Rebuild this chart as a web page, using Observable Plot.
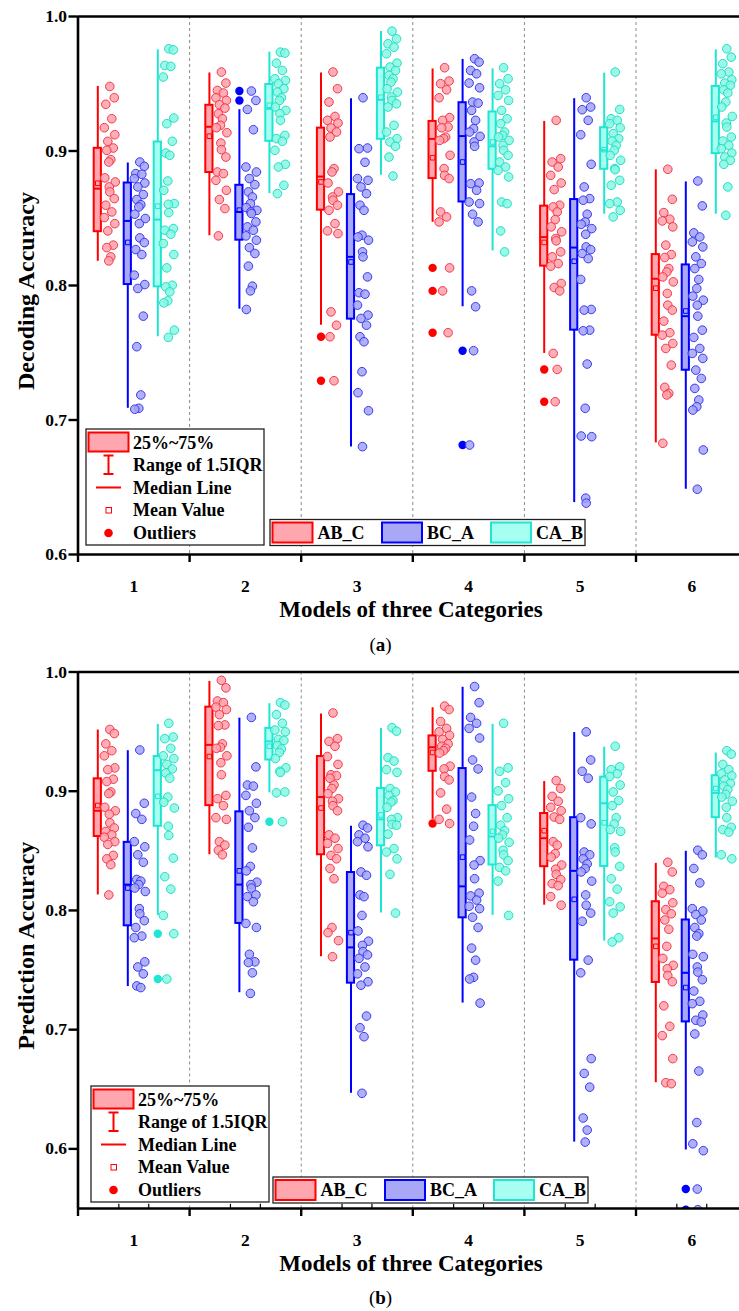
<!DOCTYPE html>
<html><head><meta charset="utf-8">
<script src="https://cdn.jsdelivr.net/npm/d3@7"></script>
<script src="https://cdn.jsdelivr.net/npm/@observablehq/plot@0.6"></script>
<style>
body{margin:0;background:#fff;width:739px;height:1311px;position:relative;overflow:hidden;font-family:"Liberation Serif","Times New Roman",serif;}
#pa,#pb{position:absolute;left:0;}
#pa{top:0px} #pb{top:655px}
.cap{position:absolute;left:11px;width:739px;text-align:center;font-size:19px;line-height:22px;color:#000;}
</style></head><body>
<div id="pa"></div>
<div class="cap" style="top:634px">(<b>a</b>)</div>
<div id="pb"></div>
<div class="cap" style="top:1287px">(<b>b</b>)</div>
<script>
// ---------------- DATA ----------------
const models = [1, 2, 3, 4, 5, 6];
const seriesNames = ["AB_C", "BC_A", "CA_B"];
const yTicks = [0.6, 0.7, 0.8, 0.9, 1.0];
const sepTicks = [0.5, 1.5, 2.5, 3.5, 4.5, 5.5];

// box statistics per model: [lower whisker, Q1, median, mean, Q3, upper whisker]
// (a) Decoding Accuracy
const decBoxAB_C = [
  [0.818, 0.840, 0.872, 0.876, 0.902, 0.948],
  [0.837, 0.884, 0.918, 0.911, 0.934, 0.958],
  [0.7705, 0.856, 0.881, 0.877, 0.917, 0.958],
  [0.847, 0.8795, 0.909, 0.895, 0.922, 0.961],
  [0.7495, 0.8144, 0.836, 0.832, 0.859, 0.922],
  [0.683, 0.763, 0.805, 0.798, 0.823, 0.886]
];
const decBoxBC_A = [
  [0.7087, 0.8007, 0.848, 0.832, 0.8762, 0.8911],
  [0.7824, 0.8337, 0.8547, 0.856, 0.8745, 0.9307],
  [0.680, 0.775, 0.8213, 0.8175, 0.8676, 0.9389],
  [0.7842, 0.8621, 0.9111, 0.8918, 0.9359, 0.9681],
  [0.6386, 0.7668, 0.8282, 0.818, 0.8639, 0.9389],
  [0.6485, 0.737, 0.7772, 0.781, 0.8153, 0.877]
];
const decBoxCA_B = [
  [0.7619, 0.799, 0.849, 0.859, 0.9067, 0.9752],
  [0.8683, 0.9072, 0.9314, 0.934, 0.9495, 0.9735],
  [0.8819, 0.9087, 0.9381, 0.940, 0.9616, 0.9889],
  [0.8257, 0.8864, 0.9035, 0.9067, 0.929, 0.9611],
  [0.853, 0.8864, 0.9005, 0.901, 0.9173, 0.9579],
  [0.853, 0.898, 0.922, 0.925, 0.948, 0.9752]
];
const decOutAB_C = [[], [], [0.7619, 0.7292], [0.8131, 0.796, 0.7649], [0.7376, 0.7136], []];
const decOutBC_A = [[], [0.9446, 0.9376], [], [0.7515, 0.6814], [], []];
const decOutCA_B = [[], [], [], [], [], []];
const decPtsAB_C = [
  [0.948,0.9396,0.9347,0.924,0.9173,0.9121,0.9072,0.9022,0.9005,0.8936,0.8918,0.880,0.877,0.8733,0.8696,0.8646,0.8597,0.8547,0.8505,0.846,0.8406,0.830,0.8282,0.8213,0.8183],
  [0.9587,0.9505,0.945,0.9431,0.9396,0.9376,0.9344,0.9319,0.9277,0.924,0.9191,0.9173,0.9136,0.9059,0.901,0.8955,0.8844,0.8832,0.8782,0.8708,0.8639,0.8572,0.8369],
  [0.9587,0.9463,0.9364,0.9257,0.9228,0.9208,0.9171,0.9141,0.9104,0.8869,0.8844,0.8762,0.8696,0.8658,0.8634,0.8597,0.8559,0.846,0.8406,0.8386,0.7804,0.7705,0.7619,0.7292],
  [0.9619,0.952,0.95,0.9455,0.9396,0.9248,0.9228,0.9178,0.9173,0.9104,0.9092,0.9079,0.8968,0.8869,0.8819,0.8795,0.8547,0.851,0.8473,0.8131,0.796,0.7649],
  [0.9228,0.8943,0.8918,0.8881,0.8819,0.8762,0.8713,0.8597,0.8584,0.8547,0.849,0.8436,0.8399,0.8349,0.8332,0.825,0.8213,0.8163,0.8144,0.8015,0.7985,0.796,0.7495,0.7376,0.7136],
  [0.8864,0.8641,0.8542,0.8493,0.848,0.8436,0.83,0.823,0.8208,0.8126,0.8101,0.8064,0.8027,0.7941,0.7854,0.7817,0.7735,0.7649,0.7631,0.7569,0.7532,0.7408,0.7243,0.7198,0.7186,0.6827]
];
const decPtsBC_A = [
  [0.8918,0.8886,0.8832,0.8827,0.8795,0.8762,0.8733,0.8676,0.8639,0.8601,0.8584,0.853,0.8498,0.846,0.8354,0.8319,0.8267,0.823,0.8077,0.8007,0.7978,0.7772,0.7545,0.7186,0.7087,0.7080],
  [0.9446,0.9376,0.9309,0.9158,0.8881,0.8844,0.8795,0.875,0.8696,0.8658,0.8609,0.8579,0.8559,0.8547,0.8535,0.8473,0.8436,0.8411,0.8369,0.8337,0.8282,0.8238,0.8144,0.7995,0.796,0.7822],
  [0.9396,0.9022,0.9017,0.8916,0.8795,0.8782,0.8733,0.8683,0.8597,0.8559,0.8374,0.8361,0.8337,0.825,0.8213,0.8064,0.7946,0.7936,0.7854,0.778,0.7755,0.7705,0.7619,0.7582,0.7359,0.7203,0.7069,0.6802],
  [0.9686,0.9661,0.9599,0.9574,0.9505,0.947,0.9364,0.9356,0.9302,0.9228,0.9166,0.9141,0.9109,0.9067,0.9035,0.8762,0.8757,0.8708,0.8621,0.8609,0.853,0.8473,0.796,0.7842,0.7515,0.6814],
  [0.9396,0.9327,0.9307,0.9228,0.9121,0.8901,0.8733,0.8646,0.8634,0.853,0.8473,0.8455,0.8423,0.8381,0.8287,0.8267,0.8238,0.82,0.8045,0.7822,0.7817,0.7668,0.7663,0.7416,0.7087,0.6881,0.6876,0.6419,0.6382],
  [0.8777,0.8592,0.8391,0.8361,0.8324,0.8287,0.8213,0.8163,0.8126,0.8045,0.7978,0.7921,0.7891,0.7854,0.7772,0.7668,0.7614,0.7532,0.7495,0.7458,0.7371,0.7309,0.7235,0.7149,0.7099,0.7074,0.6777,0.6485]
];
const decPtsCA_B = [
  [0.976,0.9752,0.9636,0.9629,0.955,0.9245,0.9203,0.9072,0.8985,0.8968,0.8777,0.8708,0.8609,0.8604,0.8542,0.8423,0.8411,0.8381,0.8312,0.823,0.8131,0.8002,0.799,0.7953,0.7886,0.7871,0.7668,0.7614],
  [0.9735,0.9728,0.9653,0.9599,0.9537,0.9525,0.95,0.9463,0.9438,0.9396,0.9376,0.9327,0.9302,0.9277,0.9228,0.9116,0.9092,0.9072,0.9005,0.8901,0.8881,0.8745,0.8683],
  [0.9891,0.9834,0.9797,0.9772,0.9723,0.9653,0.9624,0.9599,0.9562,0.9537,0.9512,0.9463,0.9438,0.9401,0.9376,0.9351,0.9327,0.9191,0.9141,0.9092,0.9067,0.9035,0.8955,0.8814],
  [0.9619,0.9537,0.95,0.9455,0.9413,0.9376,0.9302,0.924,0.9203,0.9141,0.9116,0.9104,0.9079,0.9042,0.9005,0.8968,0.8918,0.8881,0.8856,0.8807,0.8621,0.8609,0.8406,0.825],
  [0.9587,0.9309,0.924,0.9228,0.9203,0.9173,0.9129,0.9092,0.9074,0.9042,0.9005,0.8968,0.8931,0.8869,0.8861,0.8782,0.8745,0.8621,0.8609,0.8559,0.851],
  [0.976,0.9698,0.9649,0.9587,0.9574,0.953,0.9505,0.9488,0.9455,0.9431,0.9364,0.9327,0.9257,0.9208,0.9178,0.9104,0.9074,0.9042,0.9017,0.8985,0.8955,0.8931,0.8901,0.8733,0.8522]
];

// (b) Prediction Accuracy
const predBoxAB_C = [
  [0.813, 0.862, 0.8836, 0.888, 0.9104, 0.9513],
  [0.8467, 0.8879, 0.9389, 0.9291, 0.9705, 0.9921],
  [0.7612, 0.8467, 0.8951, 0.8859, 0.9291, 0.9648],
  [0.8764, 0.9167, 0.9369, 0.9325, 0.9464, 0.970],
  [0.8044, 0.8367, 0.8606, 0.8669, 0.8813, 0.9081],
  [0.6555, 0.7396, 0.7765, 0.7699, 0.8073, 0.8395]
];
const predBoxBC_A = [
  [0.7362, 0.7871, 0.8217, 0.8188, 0.8571, 0.934],
  [0.731, 0.7891, 0.8217, 0.8332, 0.8827, 0.9613],
  [0.6466, 0.739, 0.769, 0.7814, 0.8318, 0.8706],
  [0.7223, 0.7938, 0.8202, 0.8447, 0.919, 0.9872],
  [0.6057, 0.7583, 0.8332, 0.8093, 0.8778, 0.9492],
  [0.5991, 0.7065, 0.7477, 0.7353, 0.792, 0.8496]
];
const predBoxCA_B = [
  [0.7958, 0.8706, 0.9176, 0.8957, 0.9291, 0.9561],
  [0.8986, 0.9262, 0.9418, 0.9377, 0.9527, 0.9734],
  [0.7978, 0.8542, 0.8764, 0.8801, 0.9023, 0.9527],
  [0.7958, 0.8381, 0.862, 0.8663, 0.8879, 0.9561],
  [0.7742, 0.8369, 0.8899, 0.8735, 0.9118, 0.9369],
  [0.8439, 0.8778, 0.8986, 0.9023, 0.913, 0.932]
];
const predOutAB_C = [[], [], [], [0.8729], [], []];
const predOutBC_A = [[], [], [], [], [], [0.5663, 0.549]];
const predOutCA_B = [[0.7805, 0.7425], [0.8744], [], [], [], []];
const predPtsAB_C = [
  [0.9518,0.9484,0.9397,0.934,0.9297,0.9196,0.9181,0.9101,0.9081,0.8994,0.898,0.8865,0.8836,0.8807,0.8735,0.8692,0.8663,0.8634,0.8614,0.8577,0.8554,0.8462,0.8433,0.8384,0.813],
  [0.993,0.9867,0.9757,0.9743,0.9705,0.9685,0.9642,0.9556,0.955,0.9397,0.9369,0.936,0.9297,0.9239,0.9138,0.8965,0.8937,0.8879,0.8778,0.8764,0.8577,0.8548,0.8505,0.8467],
  [0.9656,0.9441,0.9418,0.9377,0.9291,0.9225,0.9138,0.913,0.9109,0.9052,0.9023,0.898,0.8937,0.8916,0.8879,0.8836,0.8634,0.8606,0.8562,0.8519,0.8462,0.8433,0.8352,0.8266,0.7857,0.7814,0.7747,0.7612],
  [0.9714,0.9685,0.9585,0.9527,0.9498,0.9469,0.9435,0.9397,0.9377,0.936,0.934,0.932,0.921,0.9187,0.9124,0.9095,0.8986,0.885,0.8764,0.8729],
  [0.9089,0.9023,0.8957,0.8916,0.8865,0.8836,0.8784,0.8764,0.8577,0.8548,0.8476,0.8447,0.8381,0.8346,0.8303,0.826,0.8225,0.8208,0.8116,0.8044],
  [0.8404,0.8323,0.8202,0.8174,0.8145,0.8064,0.8007,0.7972,0.792,0.7842,0.7699,0.7598,0.754,0.7511,0.7454,0.7402,0.72,0.7028,0.695,0.6757,0.6555,0.6547]
];
const predPtsBC_A = [
  [0.9346,0.8899,0.8813,0.8764,0.8577,0.8534,0.8467,0.8404,0.826,0.8246,0.8217,0.8188,0.8159,0.8015,0.7972,0.7914,0.7857,0.7785,0.7771,0.7569,0.7526,0.7468,0.7367,0.7353],
  [0.9619,0.9204,0.9052,0.9043,0.8965,0.8899,0.8836,0.8779,0.8698,0.8525,0.8369,0.8332,0.8237,0.8217,0.8188,0.813,0.8116,0.8073,0.7891,0.7857,0.7632,0.7569,0.7563,0.7477,0.7304],
  [0.8715,0.8692,0.8634,0.8606,0.8577,0.8534,0.8323,0.8295,0.813,0.8116,0.7958,0.7828,0.7742,0.7707,0.7655,0.7627,0.7598,0.7526,0.7468,0.7402,0.7373,0.7114,0.7016,0.6941,0.6466],
  [0.9878,0.9743,0.9619,0.957,0.9527,0.9446,0.9262,0.9187,0.8951,0.8813,0.8706,0.8591,0.8418,0.8381,0.8266,0.8145,0.8122,0.8087,0.8035,0.8015,0.7943,0.7857,0.7684,0.7583,0.7439,0.7425,0.7223],
  [0.9498,0.9262,0.9167,0.9109,0.8778,0.8726,0.849,0.8467,0.8433,0.839,0.8352,0.8323,0.8246,0.813,0.8044,0.7978,0.7909,0.7583,0.7477,0.6757,0.6633,0.6518,0.6259,0.6158,0.6057],
  [0.8505,0.8467,0.8352,0.8231,0.8015,0.7995,0.7966,0.792,0.7857,0.7805,0.7785,0.7632,0.7612,0.7526,0.7483,0.7419,0.7324,0.7238,0.7218,0.7123,0.7079,0.7065,0.6964,0.6653,0.6221,0.6043,0.5985,0.5663,0.549]
];
const predPtsCA_B = [
  [0.957,0.9455,0.9441,0.936,0.9297,0.9274,0.9225,0.9187,0.9153,0.9109,0.8951,0.8908,0.8859,0.8706,0.8629,0.8439,0.8283,0.8179,0.7958,0.7805,0.7425],
  [0.9743,0.9723,0.9642,0.957,0.9513,0.9498,0.9435,0.9426,0.9383,0.9354,0.9325,0.9274,0.9196,0.9167,0.9158,0.8994,0.8986,0.8744],
  [0.9533,0.9504,0.9282,0.9253,0.9181,0.9158,0.9023,0.8994,0.8965,0.8922,0.8908,0.8865,0.8778,0.8764,0.8721,0.8715,0.864,0.8519,0.849,0.8433,0.8303,0.7978],
  [0.957,0.9196,0.9167,0.9072,0.9003,0.8937,0.8879,0.8778,0.8715,0.8669,0.8634,0.8606,0.8571,0.8505,0.8467,0.8418,0.8361,0.8332,0.8246,0.7958],
  [0.9377,0.9204,0.9181,0.9147,0.9124,0.9052,0.8994,0.8922,0.8879,0.8778,0.8726,0.8678,0.8663,0.8525,0.849,0.8369,0.8266,0.8179,0.8073,0.803,0.7978,0.7771,0.7736],
  [0.934,0.9311,0.9225,0.9181,0.9147,0.913,0.9095,0.9066,0.9043,0.9014,0.8974,0.8951,0.8916,0.8865,0.8778,0.8698,0.8678,0.8657,0.8467,0.8433]
];

// ---------------- STYLE ----------------
const FONT = "'Liberation Serif','Times New Roman',serif";
const strokeCol = ["#FF0000", "#0000FF", "#1EE6D2"];
const boxFill = ["#FFA6AE", "#A8A8F6", "#A6FFF0"];
const ptStroke = ["#F23A4A", "#3A3AF0", "#25DDC8"];
const ptFill = ["#FFA0AA", "#A2A2F6", "#86F8E2"];
const UNIT = 111.6;            // px per model unit
const boxOffPx = [-36, -6, 24];
const ptOffPx = [-24, 6, 35];
const jitterPx = [0, 4.5, -4, 2, -5.5, 5, -2, 3.5, -3, 1, -1, -5, 5.5, -0.5];
const halfW = 3.6 / UNIT;

function makePanel(el, cfg) {
  const boxRows = [], ptRows = [], outRows = [];
  cfg.boxes.forEach((arr, s) => arr.forEach((b, g) => {
    boxRows.push({s, xc: models[g] + boxOffPx[s] / UNIT, lo: b[0], q1: b[1], med: b[2], mean: b[3], q3: b[4], hi: b[5]});
  }));
  cfg.pts.forEach((arr, s) => arr.forEach((vals, g) => vals.forEach((v, i) => {
    ptRows.push({s, x: models[g] + (ptOffPx[s] + jitterPx[i % jitterPx.length]) / UNIT, y: v});
  })));
  cfg.outs.forEach((arr, s) => arr.forEach((vals, g) => vals.forEach(v => {
    outRows.push({s, x: models[g] + boxOffPx[s] / UNIT, y: v});
  })));

  const marks = [
    Plot.ruleX([1.5, 2.5, 3.5, 4.5, 5.5], {stroke: "#8a8a8a", strokeWidth: 1, strokeDasharray: "3,3"})
  ];
  for (let s = 0; s < 3; s++) {
    const br = boxRows.filter(d => d.s === s);
    marks.push(
      Plot.ruleX(br, {x: "xc", y1: "lo", y2: "q1", stroke: strokeCol[s], strokeWidth: 2}),
      Plot.ruleX(br, {x: "xc", y1: "q3", y2: "hi", stroke: strokeCol[s], strokeWidth: 2}),
      Plot.rect(br, {x1: d => d.xc - halfW, x2: d => d.xc + halfW, y1: "q1", y2: "q3", fill: boxFill[s], stroke: strokeCol[s], strokeWidth: 2}),
      Plot.ruleY(br, {y: "med", x1: d => d.xc - halfW, x2: d => d.xc + halfW, stroke: strokeCol[s], strokeWidth: 2}),
      Plot.dot(br, {x: "xc", y: "mean", symbol: "square", r: 2.6, stroke: strokeCol[s], strokeWidth: 1, fill: "none"}),
      Plot.dot(outRows.filter(d => d.s === s), {x: "x", y: "y", r: 4.2, fill: strokeCol[s], stroke: "none", clip: true}),
      Plot.dot(ptRows.filter(d => d.s === s), {x: "x", y: "y", r: 4.3, fill: ptFill[s], fillOpacity: 0.85, stroke: ptStroke[s], strokeWidth: 1, clip: true})
    );
  }
  if (cfg.minor) {
    marks.push(Plot.ruleX(cfg.minor, {y1: cfg.domain[0], y2: cfg.domain[0] + 0.0035, stroke: "#000", strokeWidth: 1.2}));
  }
  marks.push(
    Plot.ruleX([0.5], {stroke: "#000", strokeWidth: 2.6}),
    Plot.ruleY([1.0], {stroke: "#000", strokeWidth: 2.6}),
    Plot.ruleY([cfg.domain[0]], {stroke: "#000", strokeWidth: 2.6}),
    Plot.axisY(yTicks, {anchor: "left", tickSize: 9, tickPadding: 2, strokeWidth: 2.4, tickFormat: d3.format(".1f"), fontSize: 17.5, fontWeight: "bold", fontFamily: FONT, label: null}),
    Plot.axisX(sepTicks, {anchor: "bottom", tickSize: 8, strokeWidth: 2.4, tickFormat: () => "", label: null}),
    Plot.axisX(models, {anchor: "bottom", tickSize: 0, tickPadding: 25, tickFormat: d => String(d), fontSize: 17.5, fontWeight: "bold", fontFamily: FONT, label: null})
  );

  const H = 625;
  const svg = Plot.plot({
    width: 739, height: H,
    marginTop: cfg.top, marginBottom: H - cfg.bottom, marginLeft: 77.5, marginRight: 0,
    x: {domain: [0.5, 6.5], range: [77.5, 77.5 + 6 * UNIT]},
    y: {domain: cfg.domain, range: [cfg.bottom, cfg.top]},
    style: {fontFamily: FONT, fontSize: "17px", fontWeight: "bold", background: "transparent", color: "#000"},
    marks
  });
  const sel = d3.select(svg);
  // axis titles
  sel.append("text").attr("transform", `translate(26,${(cfg.top + cfg.bottom) / 2 + 6}) rotate(-90)`)
    .attr("text-anchor", "middle").attr("dy", "0.35em")
    .style("font", `bold 24px ${FONT}`).attr("fill", "#000").text(cfg.ylabel);
  sel.append("text").attr("x", 411).attr("y", cfg.bottom + 55)
    .attr("text-anchor", "middle").attr("dy", "0.35em")
    .style("font", `bold 23px ${FONT}`).attr("fill", "#000").text("Models of three Categories");

  // legend 1: box elements
  const [lx, ly] = cfg.leg1;
  const g1 = sel.append("g").attr("transform", `translate(${lx},${ly})`).attr("text-anchor", "start");
  g1.append("rect").attr("width", 178).attr("height", 116).attr("fill", "#fff").attr("stroke", "#222").attr("stroke-width", 1.3);
  g1.append("rect").attr("x", 2.5).attr("y", 3.5).attr("width", 40).attr("height", 19).attr("fill", boxFill[0]).attr("stroke", strokeCol[0]).attr("stroke-width", 2);
  g1.append("path").attr("d", "M17.5,26.5H27.5M22.5,26.5V45M17.5,45H27.5").attr("stroke", strokeCol[0]).attr("stroke-width", 2).attr("fill", "none");
  g1.append("line").attr("x1", 10).attr("x2", 35).attr("y1", 58.5).attr("y2", 58.5).attr("stroke", strokeCol[0]).attr("stroke-width", 2);
  g1.append("rect").attr("x", 20).attr("y", 78.5).attr("width", 5.5).attr("height", 5.5).attr("fill", "none").attr("stroke", strokeCol[0]).attr("stroke-width", 1);
  g1.append("circle").attr("cx", 22.5).attr("cy", 104).attr("r", 4.3).attr("fill", strokeCol[0]);
  const labels1 = ["25%~75%", "Range of 1.5IQR", "Median Line", "Mean Value", "Outliers"];
  const rowY = [13.5, 36, 58.5, 81, 104];
  labels1.forEach((t, i) => g1.append("text").attr("x", 47).attr("y", rowY[i]).attr("dy", "0.35em")
    .attr("text-anchor", "start")
    .style("font", `bold 18px ${FONT}`).attr("fill", "#000").text(t));

  // legend 2: series
  const [sx, sy] = cfg.leg2;
  const g2 = sel.append("g").attr("transform", `translate(${sx},${sy})`).attr("text-anchor", "start");
  g2.append("rect").attr("width", 315).attr("height", 26).attr("fill", "#fff").attr("stroke", "#222").attr("stroke-width", 1.3);
  const rx = [2.5, 112, 221];
  seriesNames.forEach((n, i) => {
    g2.append("rect").attr("x", rx[i]).attr("y", 3).attr("width", 40).attr("height", 20).attr("fill", boxFill[i]).attr("stroke", strokeCol[i]).attr("stroke-width", 2);
    g2.append("text").attr("x", rx[i] + 45).attr("y", 13).attr("dy", "0.35em")
      .attr("text-anchor", "start")
      .style("font", `bold 18px ${FONT}`).attr("fill", "#000").text(n);
  });
  el.appendChild(svg);
}

const minorTicks = [];
models.forEach(m => { minorTicks.push(m - 0.134, m + 0.134); });

makePanel(document.getElementById("pa"), {
  boxes: [decBoxAB_C, decBoxBC_A, decBoxCA_B],
  pts: [decPtsAB_C, decPtsBC_A, decPtsCA_B],
  outs: [decOutAB_C, decOutBC_A, decOutCA_B],
  domain: [0.6, 1.0], top: 16, bottom: 554,
  ylabel: "Decoding Accuracy",
  leg1: [86, 429], leg2: [270, 519.5], minor: null
});
makePanel(document.getElementById("pb"), {
  boxes: [predBoxAB_C, predBoxBC_A, predBoxCA_B],
  pts: [predPtsAB_C, predPtsBC_A, predPtsCA_B],
  outs: [predOutAB_C, predOutBC_A, predOutCA_B],
  domain: [0.55, 1.0], top: 16.5, bottom: 553,
  ylabel: "Prediction Accuracy",
  leg1: [91, 431], leg2: [273, 522], minor: minorTicks
});
</script>
</body></html>
